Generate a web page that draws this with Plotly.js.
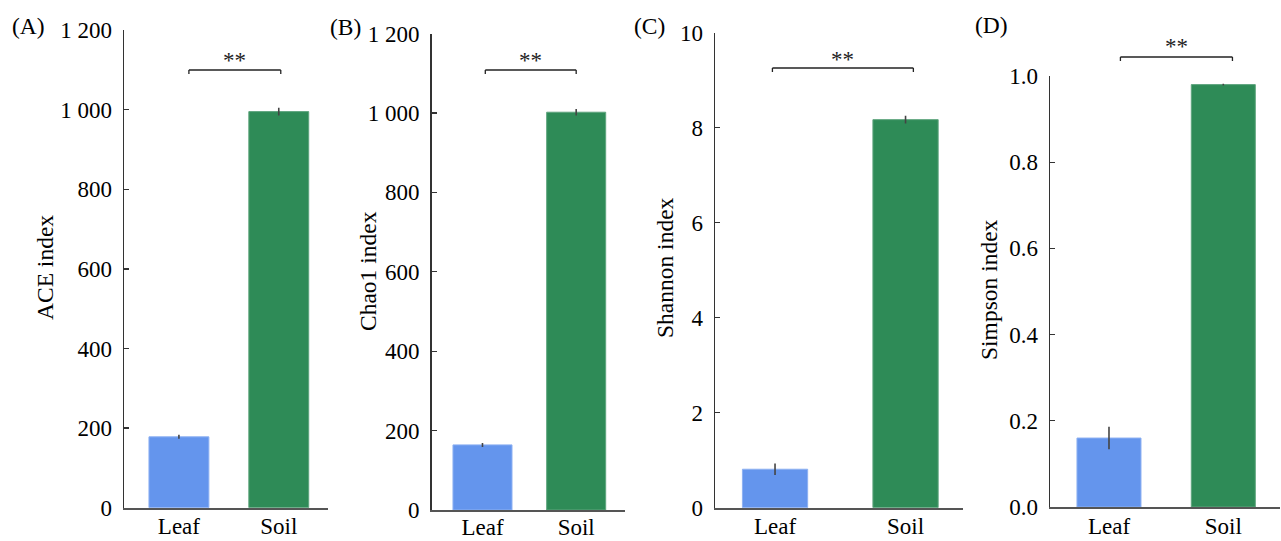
<!DOCTYPE html>
<html>
<head>
<meta charset="utf-8">
<script src="https://cdn.plot.ly/plotly-3.0.1.min.js"></script>
<style>html,body{margin:0;padding:0;background:#fff;}#chart{width:1281px;height:541px;}</style>
</head>
<body>
<div id="chart"></div>
<script>
// ---- data ----
const categories = ['Leaf', 'Soil'];
const barColors = ['#6495ED', '#2E8B57'];
const barEdge = ['#8DB0F2', '#5FA57E'];
const aceMean = [178, 995];
const aceErr = [5, 10];
const chaoMean = [164, 1002];
const chaoErr = [5, 8];
const shannonMean = [0.81, 8.17];
const shannonErr = [0.12, 0.08];
const simpsonMean = [0.16, 0.98];
const simpsonErr = [0.026, 0.002];
const yTitles = ['ACE index', 'Chao1 index', 'Shannon index', 'Simpson index'];
const panelLabels = ['(A)', '(B)', '(C)', '(D)'];
const sigLabel = '**';

const W = 1281, H = 541;
const FONT = '"Liberation Serif", "Times New Roman", serif';
const fx = px => px / W;
const fy = px => 1 - px / H;

// panel geometry (pixels)
const panels = [
  {mean: aceMean, err: aceErr, x0: 124, x1: 327.7, xr: [-0.55, 1.49], y0: 507.7, y1: 30, yr: [0, 1200], dtick: 200, fmt: null, bw: 0.6,
   br: {y: 70, a: 0.1, b: 1.02}, star: 61, lab: {x: 10, y: 26}, tt: {x: 45, y: 268}, xs: -3},
  {mean: chaoMean, err: chaoErr, x0: 431.7, x1: 625, xr: [-0.542, 1.521], y0: 510, y1: 33.6, yr: [0, 1200], dtick: 200, fmt: null, bw: 0.63,
   br: {y: 70, a: 0.03, b: 1.0}, star: 61, lab: {x: 328, y: 27}, tt: {x: 368, y: 271}, xs: -5},
  {mean: shannonMean, err: shannonErr, x0: 715, x1: 962.7, xr: [-0.46, 1.438], y0: 507.7, y1: 32.7, yr: [0, 10], dtick: 2, fmt: null, bw: 0.5,
   br: {y: 68, a: -0.02, b: 1.06}, star: 59, lab: {x: 632, y: 26}, tt: {x: 665, y: 268}, xs: -3},
  {mean: simpsonMean, err: simpsonErr, x0: 1050, x1: 1280, xr: [-0.516, 1.496], y0: 507, y1: 76, yr: [0, 1], dtick: 0.2, fmt: '.1f', bw: 0.56,
   br: {y: 57, a: 0.1, b: 1.08}, star: 47, lab: {x: 973, y: 25}, tt: {x: 989, y: 290}, xs: -3}
];

const traces = [];
const layout = {
  width: W, height: H,
  margin: {l: 0, r: 0, t: 0, b: 0},
  paper_bgcolor: '#fff', plot_bgcolor: '#fff',
  showlegend: false,
  separators: '. ',
  font: {family: FONT, size: 23, color: '#000'},
  shapes: [], annotations: []
};

panels.forEach((p, i) => {
  const n = i === 0 ? '' : String(i + 1);
  const xa = 'x' + n, ya = 'y' + n;
  traces.push({
    type: 'bar', x: [0, 1], y: p.mean, xaxis: xa, yaxis: ya, width: p.bw,
    marker: {color: barColors, line: {color: barEdge, width: 1}},
    error_y: {type: 'data', array: p.err, visible: true, color: '#444', thickness: 1.6, width: 0},
    hoverinfo: 'skip'
  });
  layout['xaxis' + n] = {
    domain: [fx(p.x0), fx(p.x1)], range: p.xr, anchor: ya,
    tickmode: 'array', tickvals: [0, 1], ticktext: categories,
    ticks: '', showgrid: false, zeroline: false,
    showline: true, linecolor: '#555', linewidth: 2, ticklabelstandoff: p.xs,
    tickfont: {family: FONT, size: 23, color: '#000'}, fixedrange: true
  };
  const yax = {
    domain: [fy(p.y0), fy(p.y1)], range: p.yr, anchor: xa,
    dtick: p.dtick, tick0: 0, ticks: 'inside', ticklen: 5, tickwidth: 1.3, tickcolor: '#333',
    showgrid: false, zeroline: false, showline: true, linecolor: '#333', linewidth: 1.5,
    separatethousands: true, ticklabelstandoff: 6,
    tickfont: {family: FONT, size: 23, color: '#000'}, fixedrange: true
  };
  if (p.fmt) yax.tickformat = p.fmt;
  layout['yaxis' + n] = yax;

  // significance bracket
  const by = fy(p.br.y), bt = fy(p.br.y + 4);
  const ln = {color: '#222', width: 1.3};
  layout.shapes.push({type: 'line', xref: xa, yref: 'paper', x0: p.br.a, x1: p.br.b, y0: by, y1: by, line: ln});
  layout.shapes.push({type: 'line', xref: xa, yref: 'paper', x0: p.br.a, x1: p.br.a, y0: by, y1: bt, line: ln});
  layout.shapes.push({type: 'line', xref: xa, yref: 'paper', x0: p.br.b, x1: p.br.b, y0: by, y1: bt, line: ln});
  layout.annotations.push({xref: xa, yref: 'paper', x: (p.br.a + p.br.b) / 2, y: fy(p.star), text: sigLabel,
    showarrow: false, xanchor: 'center', yanchor: 'middle', font: {family: FONT, size: 23, color: '#222'}});
  // panel label
  layout.annotations.push({xref: 'paper', yref: 'paper', x: fx(p.lab.x), y: fy(p.lab.y), text: panelLabels[i],
    showarrow: false, xanchor: 'left', yanchor: 'middle', font: {family: FONT, size: 23.5, color: '#000'}});
  // y-axis title
  layout.annotations.push({xref: 'paper', yref: 'paper', x: fx(p.tt.x), y: fy(p.tt.y), text: yTitles[i],
    showarrow: false, textangle: -90, xanchor: 'center', yanchor: 'middle', font: {family: FONT, size: 23.5, color: '#000'}});
});

Plotly.newPlot('chart', traces, layout, {displayModeBar: false, staticPlot: true});
</script>
</body>
</html>
